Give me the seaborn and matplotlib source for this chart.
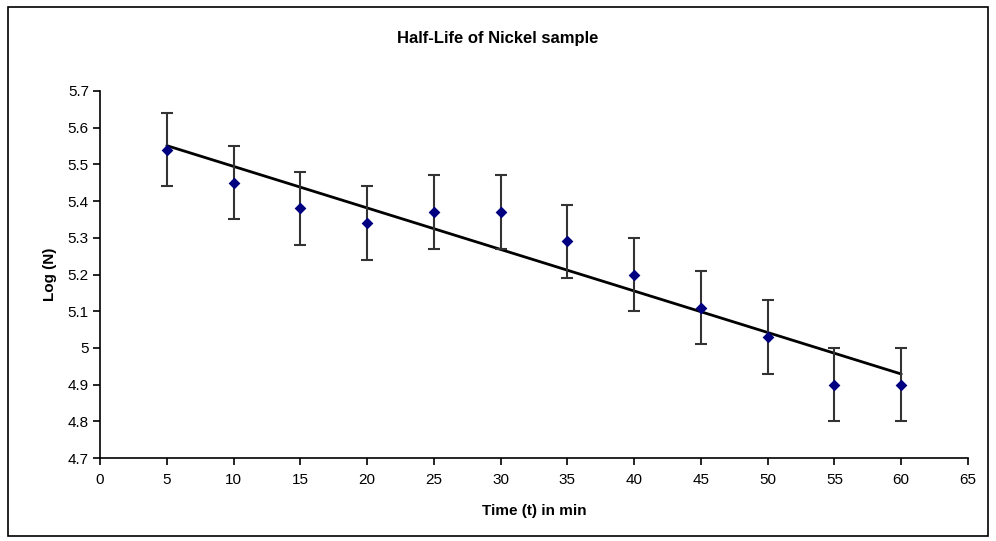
import numpy as np
import pandas as pd
import matplotlib
matplotlib.use("Agg")
import matplotlib.pyplot as plt
import seaborn as sns
from matplotlib.patches import Rectangle

# Data
time_min = [5, 10, 15, 20, 25, 30, 35, 40, 45, 50, 55, 60]
log_n = [5.54, 5.45, 5.38, 5.34, 5.37, 5.37, 5.29, 5.20, 5.11, 5.03, 4.90, 4.90]
err = [0.1] * 12
title = "Half-Life of Nickel sample"
xlabel = "Time (t) in min"
ylabel = "Log (N)"

df = pd.DataFrame({"t": time_min, "logN": log_n, "err": err})

sns.set_style("white")
plt.rcParams["font.family"] = ["Liberation Sans", "DejaVu Sans"]
plt.rcParams["text.color"] = "black"
plt.rcParams["axes.labelcolor"] = "black"
plt.rcParams["xtick.color"] = "black"
plt.rcParams["ytick.color"] = "black"

fig = plt.figure(figsize=(9.96, 5.41), dpi=100)
ax = fig.add_axes([0.1004, 0.1534, 0.8715, 0.6784])

# Trendline (linear fit)
coef = np.polyfit(df["t"], df["logN"], 1)
tl = pd.DataFrame({"t": [min(time_min), max(time_min)]})
tl["fit"] = np.polyval(coef, tl["t"])
sns.lineplot(data=tl, x="t", y="fit", color="black", lw=2, ax=ax, zorder=2)

ax.errorbar(df["t"], df["logN"], yerr=df["err"], fmt="none", ecolor="#333333",
            elinewidth=1.5, capsize=4.5, capthick=1.5, zorder=3)
sns.scatterplot(data=df, x="t", y="logN", marker="D", color="#000080", s=36,
                edgecolor="#000080", linewidth=0, ax=ax, zorder=4)

ax.set_xlim(0, 65)
ax.set_ylim(4.7, 5.7)
ax.set_xticks(np.arange(0, 66, 5))
yt = np.round(np.arange(4.7, 5.71, 0.1), 1)
ax.set_yticks(yt)
ax.set_yticklabels([("%g" % v) for v in yt])

for s in ["top", "right"]:
    ax.spines[s].set_visible(False)
for s in ["left", "bottom"]:
    ax.spines[s].set_color("black")
    ax.spines[s].set_linewidth(1.2)
ax.tick_params(axis="both", which="major", bottom=True, left=True,
               direction="out", length=5, width=1.2, color="black",
               labelcolor="black", labelsize=11, pad=3)
ax.tick_params(axis="x", pad=6)

ax.set_xlabel(xlabel, fontsize=11, fontweight="bold", labelpad=12)
ax.set_ylabel(ylabel, fontsize=11, fontweight="bold", labelpad=8)
fig.text(0.5, 1 - 38 / 541, title, ha="center", va="center", fontsize=12,
         fontweight="bold")

fig.patches.append(Rectangle((8 / 996, 1 - 536 / 541), 980 / 996, 529 / 541,
                             transform=fig.transFigure, fill=False,
                             edgecolor="black", linewidth=1.2))

fig.savefig("out.png", dpi=100, facecolor="white")
